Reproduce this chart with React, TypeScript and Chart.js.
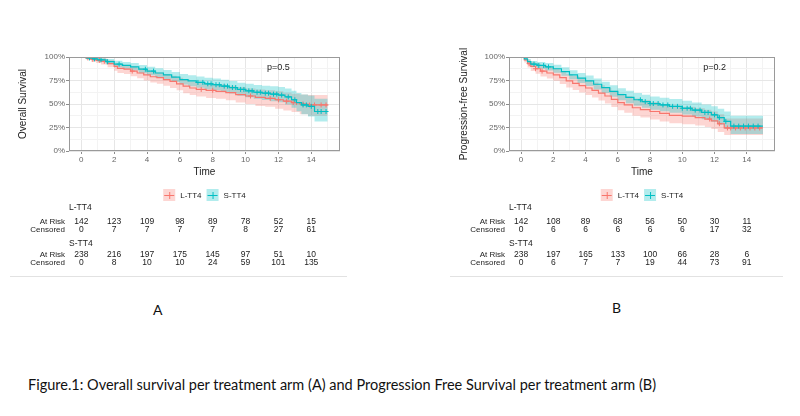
import React, { useEffect, useRef } from 'react';
import { Chart, registerables } from 'chart.js';

Chart.register(...registerables);

const RED = '#F8766D';
const TEAL = '#00BFC4';
const RED_BAND = 'rgba(248,118,109,0.3)';
const TEAL_BAND = 'rgba(0,191,196,0.3)';
const FONT = '"Liberation Sans", Arial, sans-serif';

const groups = ['L-TT4', 'S-TT4'];
const tableTimes = [0, 2, 4, 6, 8, 10, 12, 14];
const xGridTicks = [0, 1, 2, 3, 4, 5, 6, 7, 8, 9, 10, 11, 12, 13, 14, 15];
const yGridTicks = [0, 0.125, 0.25, 0.375, 0.5, 0.625, 0.75, 0.875, 1];

// ---------- Panel A: Overall survival ----------
const osRedTime = [0, 0.3, 0.6, 0.9, 1.2, 1.6, 2.0, 2.2, 2.6, 3.0, 3.4, 3.8, 4.2, 4.6, 5.0, 5.4, 5.8, 6.2, 6.6, 7.0, 7.6, 8.2, 8.8, 9.4, 10.0, 10.6, 11.2, 11.8, 12.3, 12.8, 13.3, 13.8, 15.0];
const osRedSurv = [1, 0.99, 0.975, 0.965, 0.955, 0.93, 0.9, 0.88, 0.87, 0.85, 0.83, 0.81, 0.79, 0.78, 0.76, 0.74, 0.715, 0.69, 0.67, 0.655, 0.645, 0.635, 0.62, 0.6, 0.585, 0.57, 0.56, 0.545, 0.53, 0.515, 0.5, 0.49, 0.49];
const osRedLower = [1, 0.973, 0.95, 0.935, 0.92, 0.89, 0.855, 0.83, 0.82, 0.795, 0.775, 0.75, 0.73, 0.715, 0.695, 0.67, 0.645, 0.615, 0.595, 0.58, 0.565, 0.555, 0.54, 0.515, 0.5, 0.48, 0.47, 0.45, 0.43, 0.415, 0.39, 0.375, 0.375];
const osRedUpper = [1, 1, 0.995, 0.99, 0.985, 0.965, 0.94, 0.925, 0.915, 0.9, 0.88, 0.865, 0.845, 0.835, 0.82, 0.8, 0.78, 0.76, 0.74, 0.725, 0.715, 0.71, 0.695, 0.68, 0.665, 0.655, 0.645, 0.635, 0.62, 0.61, 0.6, 0.595, 0.595];
const osRedCensor = [0.4, 0.7, 1.1, 1.4, 3.1, 7.3, 8.0, 10.3, 11.5, 12.0, 12.5, 12.9, 13.1, 13.5, 13.9, 14.2, 14.6, 14.9];

const osTealTime = [0, 0.3, 0.7, 1.0, 1.5, 2.0, 2.5, 3.0, 3.5, 4.0, 4.5, 5.0, 5.5, 6.0, 6.5, 7.0, 7.5, 8.0, 8.5, 9.0, 9.5, 10.0, 10.5, 11.0, 11.5, 12.0, 12.4, 12.8, 13.1, 13.4, 13.8, 14.2, 15.0];
const osTealSurv = [1, 0.99, 0.98, 0.97, 0.95, 0.925, 0.91, 0.895, 0.87, 0.85, 0.83, 0.81, 0.785, 0.76, 0.745, 0.73, 0.715, 0.705, 0.69, 0.675, 0.655, 0.64, 0.625, 0.615, 0.605, 0.595, 0.575, 0.545, 0.515, 0.49, 0.475, 0.42, 0.42];
const osTealLower = [1, 0.977, 0.962, 0.948, 0.922, 0.892, 0.874, 0.856, 0.828, 0.805, 0.783, 0.761, 0.734, 0.707, 0.69, 0.674, 0.657, 0.645, 0.628, 0.611, 0.589, 0.572, 0.555, 0.543, 0.53, 0.518, 0.494, 0.459, 0.423, 0.39, 0.368, 0.315, 0.315];
const osTealUpper = [1, 1, 0.998, 0.992, 0.978, 0.96, 0.948, 0.936, 0.914, 0.897, 0.879, 0.861, 0.84, 0.818, 0.806, 0.792, 0.779, 0.771, 0.758, 0.745, 0.727, 0.715, 0.703, 0.695, 0.688, 0.68, 0.665, 0.64, 0.618, 0.6, 0.59, 0.555, 0.555];
const osTealCensor = [0.5, 0.8, 1.2, 1.6, 2.3, 3.9, 4.4, 7.1, 7.4, 7.7, 7.9, 8.2, 8.4, 8.7, 8.9, 9.2, 9.4, 9.7, 9.9, 10.2, 10.4, 10.7, 10.9, 11.2, 11.4, 11.7, 11.9, 12.2, 12.6, 13.0, 13.5, 13.7, 14.0, 14.4, 14.6, 14.9];

const osLAtRisk = [142, 123, 109, 98, 89, 78, 52, 15];
const osLCensored = [0, 7, 7, 7, 7, 8, 27, 61];
const osSAtRisk = [238, 216, 197, 175, 145, 97, 51, 10];
const osSCensored = [0, 8, 10, 10, 24, 59, 101, 135];

// ---------- Panel B: Progression-free survival ----------
const pfsRedTime = [0, 0.2, 0.4, 0.6, 0.9, 1.2, 1.6, 2.0, 2.4, 2.8, 3.2, 3.6, 4.0, 4.4, 4.8, 5.2, 5.6, 6.0, 6.4, 6.9, 7.4, 8.0, 8.6, 9.2, 10.0, 10.8, 11.4, 11.8, 12.2, 12.6, 15.0];
const pfsRedSurv = [1, 0.97, 0.93, 0.9, 0.875, 0.85, 0.83, 0.81, 0.78, 0.745, 0.72, 0.695, 0.67, 0.645, 0.615, 0.585, 0.55, 0.515, 0.49, 0.46, 0.44, 0.42, 0.4, 0.38, 0.37, 0.355, 0.34, 0.32, 0.29, 0.245, 0.245];
const pfsRedLower = [1, 0.942, 0.889, 0.852, 0.822, 0.793, 0.77, 0.747, 0.714, 0.676, 0.649, 0.622, 0.595, 0.568, 0.537, 0.506, 0.469, 0.433, 0.407, 0.376, 0.356, 0.335, 0.315, 0.295, 0.285, 0.27, 0.254, 0.233, 0.203, 0.17, 0.17];
const pfsRedUpper = [1, 0.998, 0.972, 0.95, 0.93, 0.91, 0.893, 0.876, 0.85, 0.818, 0.797, 0.775, 0.752, 0.729, 0.7, 0.671, 0.641, 0.609, 0.586, 0.558, 0.539, 0.52, 0.5, 0.48, 0.47, 0.455, 0.44, 0.42, 0.39, 0.345, 0.345];
const pfsRedCensor = [0.5, 0.9, 1.3, 11.7, 12.3, 12.8, 13.0, 13.3, 13.6, 13.9, 14.2, 14.5, 14.8];

const pfsTealTime = [0, 0.2, 0.4, 0.6, 1.0, 1.5, 2.0, 2.5, 3.0, 3.5, 4.0, 4.5, 5.0, 5.5, 6.0, 6.5, 7.0, 7.5, 8.0, 8.6, 9.2, 10.0, 10.6, 11.2, 11.8, 12.2, 12.6, 13.0, 15.0];
const pfsTealSurv = [1, 0.98, 0.95, 0.925, 0.91, 0.895, 0.875, 0.845, 0.81, 0.775, 0.745, 0.71, 0.675, 0.635, 0.6, 0.57, 0.545, 0.525, 0.505, 0.49, 0.475, 0.455, 0.435, 0.41, 0.385, 0.355, 0.315, 0.265, 0.265];
const pfsTealLower = [1, 0.962, 0.923, 0.893, 0.874, 0.856, 0.833, 0.8, 0.762, 0.724, 0.692, 0.655, 0.618, 0.576, 0.539, 0.508, 0.482, 0.461, 0.44, 0.424, 0.408, 0.387, 0.366, 0.339, 0.312, 0.28, 0.236, 0.18, 0.18];
const pfsTealUpper = [1, 0.998, 0.978, 0.958, 0.947, 0.935, 0.918, 0.892, 0.86, 0.829, 0.802, 0.77, 0.737, 0.7, 0.668, 0.64, 0.616, 0.598, 0.58, 0.566, 0.553, 0.535, 0.517, 0.495, 0.475, 0.45, 0.42, 0.375, 0.375];
const pfsTealCensor = [0.8, 1.1, 1.4, 1.7, 7.4, 7.7, 8.0, 8.2, 8.5, 8.8, 9.1, 9.4, 9.7, 10.0, 10.3, 10.5, 10.8, 11.1, 11.4, 11.6, 12.0, 12.3, 12.7, 13.2, 13.5, 13.8, 14.1, 14.4, 14.7];

const pfsLAtRisk = [142, 108, 89, 68, 56, 50, 30, 11];
const pfsLCensored = [0, 6, 6, 6, 6, 6, 17, 32];
const pfsSAtRisk = [238, 197, 165, 133, 100, 66, 28, 6];
const pfsSCensored = [0, 6, 7, 7, 19, 44, 73, 91];

interface Curve {
  time: number[]; surv: number[]; lower: number[]; upper: number[]; censor: number[];
  color: string; band: string;
}
interface PanelSpec {
  yTitle: string; pValue: string; curves: Curve[];
  atRisk: number[][]; censored: number[][];
  yAxisWidth: number; padRight: number; yTitlePad: number;
  ruleLeft: number; ruleRight: number;
}

const panelA: PanelSpec = {
  yTitle: 'Overall Survival', pValue: 'p=0.5',
  curves: [
    { time: osRedTime, surv: osRedSurv, lower: osRedLower, upper: osRedUpper, censor: osRedCensor, color: RED, band: RED_BAND },
    { time: osTealTime, surv: osTealSurv, lower: osTealLower, upper: osTealUpper, censor: osTealCensor, color: TEAL, band: TEAL_BAND },
  ],
  atRisk: [osLAtRisk, osSAtRisk], censored: [osLCensored, osSCensored],
  yAxisWidth: 69, padRight: 60, yTitlePad: 17, ruleLeft: 10, ruleRight: 347,
};
const panelB: PanelSpec = {
  yTitle: 'Progression-free Survival', pValue: 'p=0.2',
  curves: [
    { time: pfsRedTime, surv: pfsRedSurv, lower: pfsRedLower, upper: pfsRedUpper, censor: pfsRedCensor, color: RED, band: RED_BAND },
    { time: pfsTealTime, surv: pfsTealSurv, lower: pfsTealLower, upper: pfsTealUpper, censor: pfsTealCensor, color: TEAL, band: TEAL_BAND },
  ],
  atRisk: [pfsLAtRisk, pfsSAtRisk], censored: [pfsLCensored, pfsSCensored],
  yAxisWidth: 109, padRight: 25, yTitlePad: 58, ruleLeft: 50, ruleRight: 383,
};

const CANVAS_W = 400;
const CANVAS_H = 285;

function pts(times: number[], vals: number[]) {
  return times.map((t, i) => ({ x: t, y: vals[i] }));
}
function survAt(times: number[], vals: number[], t: number) {
  let v = vals[0];
  for (let i = 0; i < times.length; i++) if (times[i] <= t) v = vals[i];
  return v;
}
const isMajorY = (v: number) => Math.abs(v * 4 - Math.round(v * 4)) < 1e-6;
const isMajorX = (v: number) => Math.abs(v % 2) < 1e-6;

function buildConfig(spec: PanelSpec): any {
  const datasets: any[] = [];
  spec.curves.forEach((c, k) => {
    const base = k === 1 ? 0 : 2;
    datasets.push({
      label: groups[k], data: pts(c.time, c.surv), showLine: true, stepped: true,
      borderColor: c.color, borderWidth: 1.2, pointRadius: 0, fill: false, order: base + 1,
    });
    datasets.push({
      label: groups[k] + ' censored',
      data: c.censor.map((t) => ({ x: t, y: survAt(c.time, c.surv, t) })),
      showLine: false, pointStyle: 'cross', pointRadius: 2.5, pointBorderWidth: 1,
      borderColor: c.color, backgroundColor: c.color, order: base,
    });
  });
  spec.curves.forEach((c, k) => {
    const ord = k === 1 ? 4 : 5;
    datasets.push({
      label: groups[k] + ' upper', data: pts(c.time, c.upper), showLine: true, stepped: true,
      borderWidth: 0, borderColor: 'rgba(0,0,0,0)', pointRadius: 0, fill: false, order: ord,
    });
    datasets.push({
      label: groups[k] + ' lower', data: pts(c.time, c.lower), showLine: true, stepped: true,
      borderWidth: 0, borderColor: 'rgba(0,0,0,0)', pointRadius: 0, fill: '-1',
      backgroundColor: c.band, order: ord,
    });
  });

  const decor = {
    id: 'decor',
    afterDraw(chart: any) {
      const { ctx, chartArea: a, scales } = chart;
      const xs = scales.x;
      const ys = scales.y;
      ctx.save();
      // panel border
      ctx.strokeStyle = '#9a9a9a';
      ctx.lineWidth = 1;
      ctx.strokeRect(Math.round(a.left) + 0.5, Math.round(a.top) + 0.5, Math.round(a.right - a.left) - 1, Math.round(a.bottom - a.top) - 1);
      // p-value
      ctx.fillStyle = '#222';
      ctx.font = `9px ${FONT}`;
      ctx.textAlign = 'center';
      ctx.textBaseline = 'middle';
      ctx.fillText(spec.pValue, xs.getPixelForValue(12), ys.getPixelForValue(0.89));

      // legend
      ctx.font = `8px ${FONT}`;
      const keyW = 12, gap1 = 5, gap2 = 5;
      const w0 = ctx.measureText(groups[0]).width;
      const w1 = ctx.measureText(groups[1]).width;
      const total = keyW + gap1 + w0 + gap2 + keyW + gap1 + w1;
      let lx = (a.left + a.right) / 2 - total / 2;
      const ly = 195;
      const colors = [RED, TEAL];
      const bands = [RED_BAND, TEAL_BAND];
      [w0, w1].forEach((w, k) => {
        ctx.fillStyle = bands[k];
        ctx.fillRect(lx, ly - 6, keyW, 12);
        ctx.strokeStyle = colors[k];
        ctx.lineWidth = 1;
        ctx.beginPath();
        ctx.moveTo(lx + 1, ly + 0.5); ctx.lineTo(lx + keyW - 1, ly + 0.5);
        ctx.moveTo(lx + keyW / 2 + 0.5, ly - 3); ctx.lineTo(lx + keyW / 2 + 0.5, ly + 4);
        ctx.stroke();
        ctx.fillStyle = '#222';
        ctx.textAlign = 'left';
        ctx.fillText(groups[k], lx + keyW + gap1, ly + 0.5);
        lx += keyW + gap1 + w + gap2;
      });

      // risk table
      const headY = [208, 244];
      const riskY = [222, 255];
      const cenY = [230, 263];
      for (let g = 0; g < 2; g++) {
        ctx.font = `8.5px ${FONT}`;
        ctx.textAlign = 'left';
        ctx.fillStyle = '#222';
        ctx.fillText(groups[g], a.left, headY[g]);
        ctx.font = `8px ${FONT}`;
        ctx.textAlign = 'right';
        ctx.fillText('At Risk', a.left - 4, riskY[g]);
        ctx.fillText('Censored', a.left - 4, cenY[g]);
        ctx.font = `8.5px ${FONT}`;
        ctx.textAlign = 'center';
        tableTimes.forEach((t, i) => {
          const px = xs.getPixelForValue(t);
          ctx.fillText(String(spec.atRisk[g][i]), px, riskY[g]);
          ctx.fillText(String(spec.censored[g][i]), px, cenY[g]);
        });
      }
      // rule under the table
      ctx.strokeStyle = '#e2e2e2';
      ctx.beginPath();
      ctx.moveTo(spec.ruleLeft, 276.5);
      ctx.lineTo(spec.ruleRight, 276.5);
      ctx.stroke();
      ctx.restore();
    },
  };

  return {
    type: 'scatter',
    data: { datasets },
    options: {
      animation: false,
      responsive: false,
      devicePixelRatio: 1,
      layout: { padding: { left: 0, right: spec.padRight, top: 57, bottom: 105 } },
      plugins: { legend: { display: false }, tooltip: { enabled: false } },
      elements: { line: { tension: 0 } },
      scales: {
        x: {
          type: 'linear', min: -0.75, max: 15.75,
          afterBuildTicks: (s: any) => { s.ticks = xGridTicks.map((v) => ({ value: v })); },
          afterFit: (s: any) => { s.height = 29; },
          border: { display: false },
          grid: {
            color: (c: any) => (c.tick && isMajorX(c.tick.value) ? '#e6e6e6' : '#f3f3f3'),
            tickColor: (c: any) => (c.tick && isMajorX(c.tick.value) ? '#8c8c8c' : 'rgba(0,0,0,0)'),
            tickLength: 3, lineWidth: 1,
          },
          ticks: {
            callback: (v: number) => (isMajorX(v) ? String(v) : ''),
            font: { family: FONT, size: 8 }, color: '#666', padding: 1,
            maxRotation: 0, autoSkip: false,
          },
          title: { display: true, text: 'Time', font: { family: FONT, size: 10 }, color: '#222', padding: { top: 0, bottom: 2 } },
        },
        y: {
          type: 'linear', min: 0, max: 1,
          afterBuildTicks: (s: any) => { s.ticks = yGridTicks.map((v) => ({ value: v })); },
          afterFit: (s: any) => { s.width = spec.yAxisWidth; },
          border: { display: false },
          grid: {
            color: (c: any) => (c.tick && isMajorY(c.tick.value) ? '#e6e6e6' : '#f3f3f3'),
            tickColor: (c: any) => (c.tick && isMajorY(c.tick.value) ? '#8c8c8c' : 'rgba(0,0,0,0)'),
            tickLength: 3, lineWidth: 1,
          },
          ticks: {
            callback: (v: number) => (isMajorY(v) ? Math.round(v * 100) + '%' : ''),
            font: { family: FONT, size: 8 }, color: '#666', padding: 1, autoSkip: false,
          },
          title: { display: true, text: spec.yTitle, font: { family: FONT, size: 10 }, color: '#222', padding: { top: spec.yTitlePad, bottom: 0 } },
        },
      },
    },
    plugins: [decor],
  };
}

function Panel({ spec, left }: { spec: PanelSpec; left: number }) {
  const ref = useRef<HTMLCanvasElement>(null);
  useEffect(() => {
    const chart = new Chart(ref.current as HTMLCanvasElement, buildConfig(spec));
    return () => chart.destroy();
  }, [spec]);
  return (
    <canvas
      ref={ref}
      width={CANVAS_W}
      height={CANVAS_H}
      style={{ position: 'absolute', left, top: 0, width: CANVAS_W, height: CANVAS_H }}
    />
  );
}

export default function App() {
  useEffect(() => {
    document.body.style.margin = '0';
  }, []);
  const textStyle: React.CSSProperties = {
    position: 'absolute', fontFamily: 'Lato, "Open Sans", sans-serif', color: '#111',
    lineHeight: '16px', whiteSpace: 'nowrap',
  };
  return (
    <div style={{ position: 'absolute', left: 0, top: 0, width: 800, height: 416, background: '#fff', overflow: 'hidden' }}>
      <Panel spec={panelA} left={0} />
      <Panel spec={panelB} left={400} />
      <div style={{ ...textStyle, left: 153, top: 302, fontSize: 14 }}>A</div>
      <div style={{ ...textStyle, left: 612, top: 300, fontSize: 14 }}>B</div>
      <div style={{ ...textStyle, left: 28, top: 377, fontSize: 14.5 }}>
        Figure.1: Overall survival per treatment arm (A) and Progression Free Survival per treatment arm (B)
      </div>
    </div>
  );
}
